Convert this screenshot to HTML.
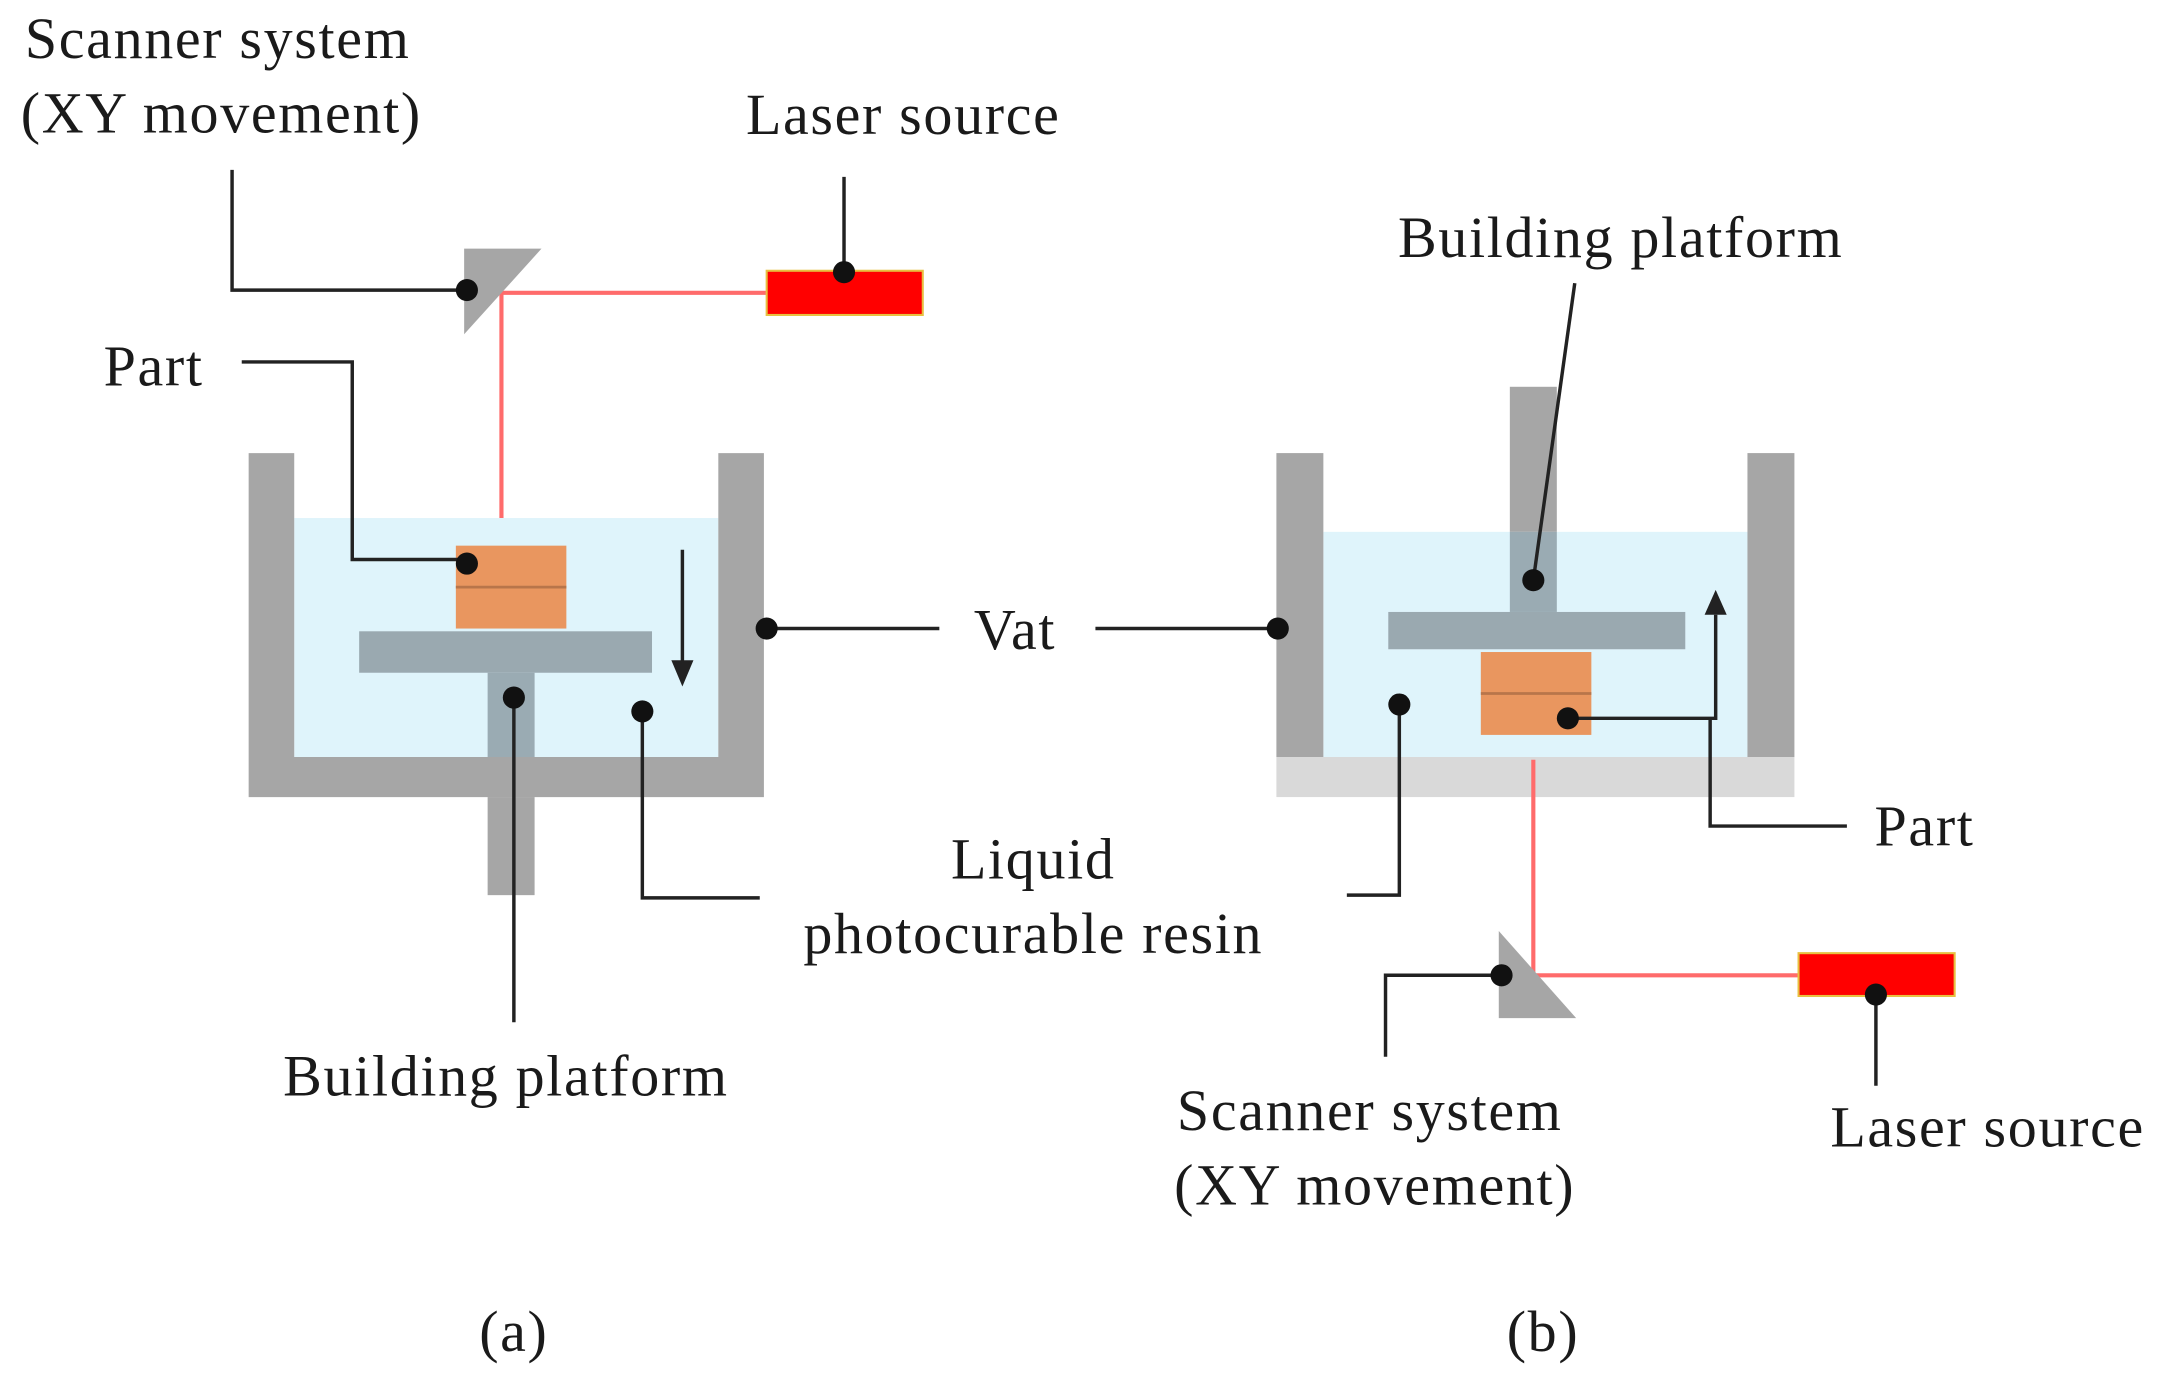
<!DOCTYPE html>
<html><head><meta charset="utf-8"><style>
html,body{margin:0;padding:0;background:#fff;}
svg{display:block;}
text{font-family:"Liberation Serif",serif;font-size:42px;letter-spacing:1.2px;fill:#1a1a1a;}
</style></head><body>
<svg width="2166" height="1393" viewBox="0 0 1568 1008.4" xmlns="http://www.w3.org/2000/svg">
<rect width="1568" height="1009" fill="#fff"/>
<!-- LEFT (a) -->
<rect x="213" y="375" width="307" height="173" fill="#dff4fb"/>
<path d="M180 328 H213 V548 H520 V328 H553 V577 H180 Z" fill="#a6a6a6"/>
<rect x="353" y="577" width="34" height="71" fill="#a6a6a6"/>
<rect x="353" y="487" width="34" height="61" fill="#9aabb3"/>
<rect x="260" y="457" width="212" height="30" fill="#9aa9b0"/>
<rect x="330" y="395" width="80" height="60" fill="#e9965f"/>
<line x1="330" y1="425" x2="410" y2="425" stroke="#b8754a" stroke-width="2"/>
<polyline points="363,375 363,212 555,212" fill="none" stroke="#ff6b6b" stroke-width="3"/>
<polygon points="336,180 392,180 336,242" fill="#a6a6a6"/>
<rect x="555" y="196" width="113" height="32" fill="#ff0000" stroke="#e8c040" stroke-width="1.5"/>
<g stroke="#222" stroke-width="2.5" fill="none">
<polyline points="168,123 168,210 338,210"/>
<line x1="611" y1="128" x2="611" y2="197"/>
<polyline points="175,262 255,262 255,405 338,405"/>
<line x1="555" y1="455" x2="680" y2="455"/>
<line x1="793" y1="455" x2="925" y2="455"/>
<line x1="372" y1="505" x2="372" y2="740"/>
<polyline points="465,515 465,650 550,650"/>
<line x1="494" y1="398" x2="494" y2="480"/>
</g>
<polygon points="486,478 502,478 494,497" fill="#222"/>
<!-- RIGHT (b) -->
<rect x="958" y="385" width="307" height="163" fill="#dff4fb" />
<rect x="924" y="328" width="34" height="220" fill="#a6a6a6"/>
<rect x="1265" y="328" width="34" height="220" fill="#a6a6a6"/>
<rect x="924" y="548" width="375" height="29" fill="#d9d9d9"/>
<rect x="1093" y="280" width="34" height="105" fill="#a6a6a6"/>
<rect x="1093" y="385" width="34" height="58" fill="#9aabb3"/>
<rect x="1005" y="443" width="215" height="27" fill="#9aa9b0"/>
<rect x="1072" y="472" width="80" height="60" fill="#e9965f"/>
<line x1="1072" y1="502" x2="1152" y2="502" stroke="#b8754a" stroke-width="2"/>
<polyline points="1110,550 1110,706 1302,706" fill="none" stroke="#ff6b6b" stroke-width="3"/>
<polygon points="1085,674 1085,737 1141,737" fill="#a6a6a6"/>
<rect x="1302" y="690" width="113" height="31" fill="#ff0000" stroke="#e8c040" stroke-width="1.5"/>
<polygon points="1234,445 1250,445 1242,427" fill="#222"/>
<g stroke="#222" stroke-width="2.5" fill="none">
<line x1="1140" y1="205" x2="1110" y2="420"/>
<polyline points="1135,520 1242,520 1242,445"/>
<polyline points="1238,520 1238,598 1337,598"/>
<polyline points="1013,510 1013,648 975,648"/>
<polyline points="1087,706 1003,706 1003,765"/>
<line x1="1358" y1="720" x2="1358" y2="786"/>
</g>
<g fill="#111">
<circle cx="338" cy="210" r="8"/><circle cx="611" cy="197" r="8"/>
<circle cx="338" cy="408" r="8"/><circle cx="555" cy="455" r="8"/>
<circle cx="372" cy="505" r="8"/><circle cx="465" cy="515" r="8"/>
<circle cx="925" cy="455" r="8"/><circle cx="1110" cy="420" r="8"/>
<circle cx="1135" cy="520" r="8"/><circle cx="1013" cy="510" r="8"/>
<circle cx="1087" cy="706" r="8"/><circle cx="1358" cy="720" r="8"/>
</g>
<!-- Labels -->
<text x="18" y="42">Scanner system</text>
<text x="15" y="96">(XY movement)</text>
<text x="540" y="97">Laser source</text>
<text x="75" y="279">Part</text>
<text x="705" y="470">Vat</text>
<text x="748" y="636" text-anchor="middle">Liquid</text>
<text x="748" y="690" text-anchor="middle">photocurable resin</text>
<text x="205" y="793">Building platform</text>
<text x="1012" y="186">Building platform</text>
<text x="1357" y="612">Part</text>
<text x="852" y="818">Scanner system</text>
<text x="850" y="872">(XY movement)</text>
<text x="1325" y="830">Laser source</text>
<text x="372" y="978" text-anchor="middle">(a)</text>
<text x="1117" y="978" text-anchor="middle">(b)</text>
</svg>
</body></html>
